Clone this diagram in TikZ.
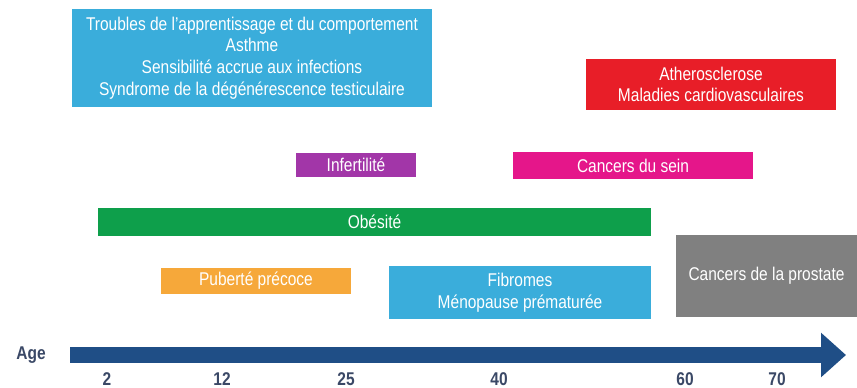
\documentclass[tikz,border=0pt]{standalone}
\usepackage{fontspec}
\setmainfont{Liberation Sans}[FakeStretch=0.84]
\usetikzlibrary{arrows.meta}
\definecolor{skyblue}{HTML}{3AADDB}
\definecolor{redbox}{HTML}{E81E28}
\definecolor{purplebox}{HTML}{A236A8}
\definecolor{pinkbox}{HTML}{E5168A}
\definecolor{greenbox}{HTML}{0E9F4B}
\definecolor{orangebox}{HTML}{F6A83A}
\definecolor{greybox}{HTML}{808080}
\definecolor{axisblue}{HTML}{1F4E86}
\definecolor{agetext}{HTML}{3A4866}
\begin{document}
\begin{tikzpicture}[x=0.02cm,y=-0.02cm,
    period/.style={text=white,align=center,font=\fontsize{10.5}{12.3}\selectfont,inner sep=0pt},
    tick/.style={text=agetext,font=\bfseries\fontsize{10.5}{12}\selectfont}]
        \useasboundingbox (0,0) rectangle (857,387);
        \node[period,fill=skyblue,minimum width=7.2cm,minimum height=1.96cm] at (252,58) (learning)
          {Troubles de l'apprentissage et du comportement\\Asthme\\Sensibilité accrue aux infections\\Syndrome de la dégénérescence testiculaire};
        \node[period,fill=redbox,minimum width=5.0cm,minimum height=1.02cm] at (711,84.5) (cardio)
          {Atherosclerose\\Maladies cardiovasculaires};
        \node[period,fill=purplebox,minimum width=2.4cm,minimum height=0.48cm] at (356,165) (infert) {Infertilité};
        \node[period,fill=pinkbox,minimum width=4.8cm,minimum height=0.54cm] at (633,165.5) (breast) {Cancers du sein};
        \node[period,fill=greenbox,minimum width=11.06cm,minimum height=0.56cm] at (374.5,222) (obesity) {Obésité};
        \node[period,fill=orangebox,minimum width=3.8cm,minimum height=0.52cm] at (256,281) (puberty) {Puberté précoce};
        \node[period,fill=skyblue,minimum width=5.24cm,minimum height=1.06cm] at (520,292.5) (fibroma)
          {Fibromes\\Ménopause prématurée};
        \node[period,fill=greybox,minimum width=3.62cm,minimum height=1.64cm] at (766.5,276) (prostate) {Cancers de la prostate};
        % time axis
        \coordinate (axisstart) at (70,355);
        \coordinate (axisend) at (846,355);
        \draw[axisblue,line width=0.32cm,-{Triangle[width=0.86cm,length=0.5cm]}] (axisstart) -- (axisend);
        \node[tick] at (31,355) (age) {Age};
        \node[tick] at (107,379) (t2) {2};
        \node[tick] at (222,379) (t12) {12};
        \node[tick] at (346,379) (t25) {25};
        \node[tick] at (499,379) (t40) {40};
        \node[tick] at (685,379) (t60) {60};
        \node[tick] at (777,379) (t70) {70};
      \end{tikzpicture}
\end{document}
